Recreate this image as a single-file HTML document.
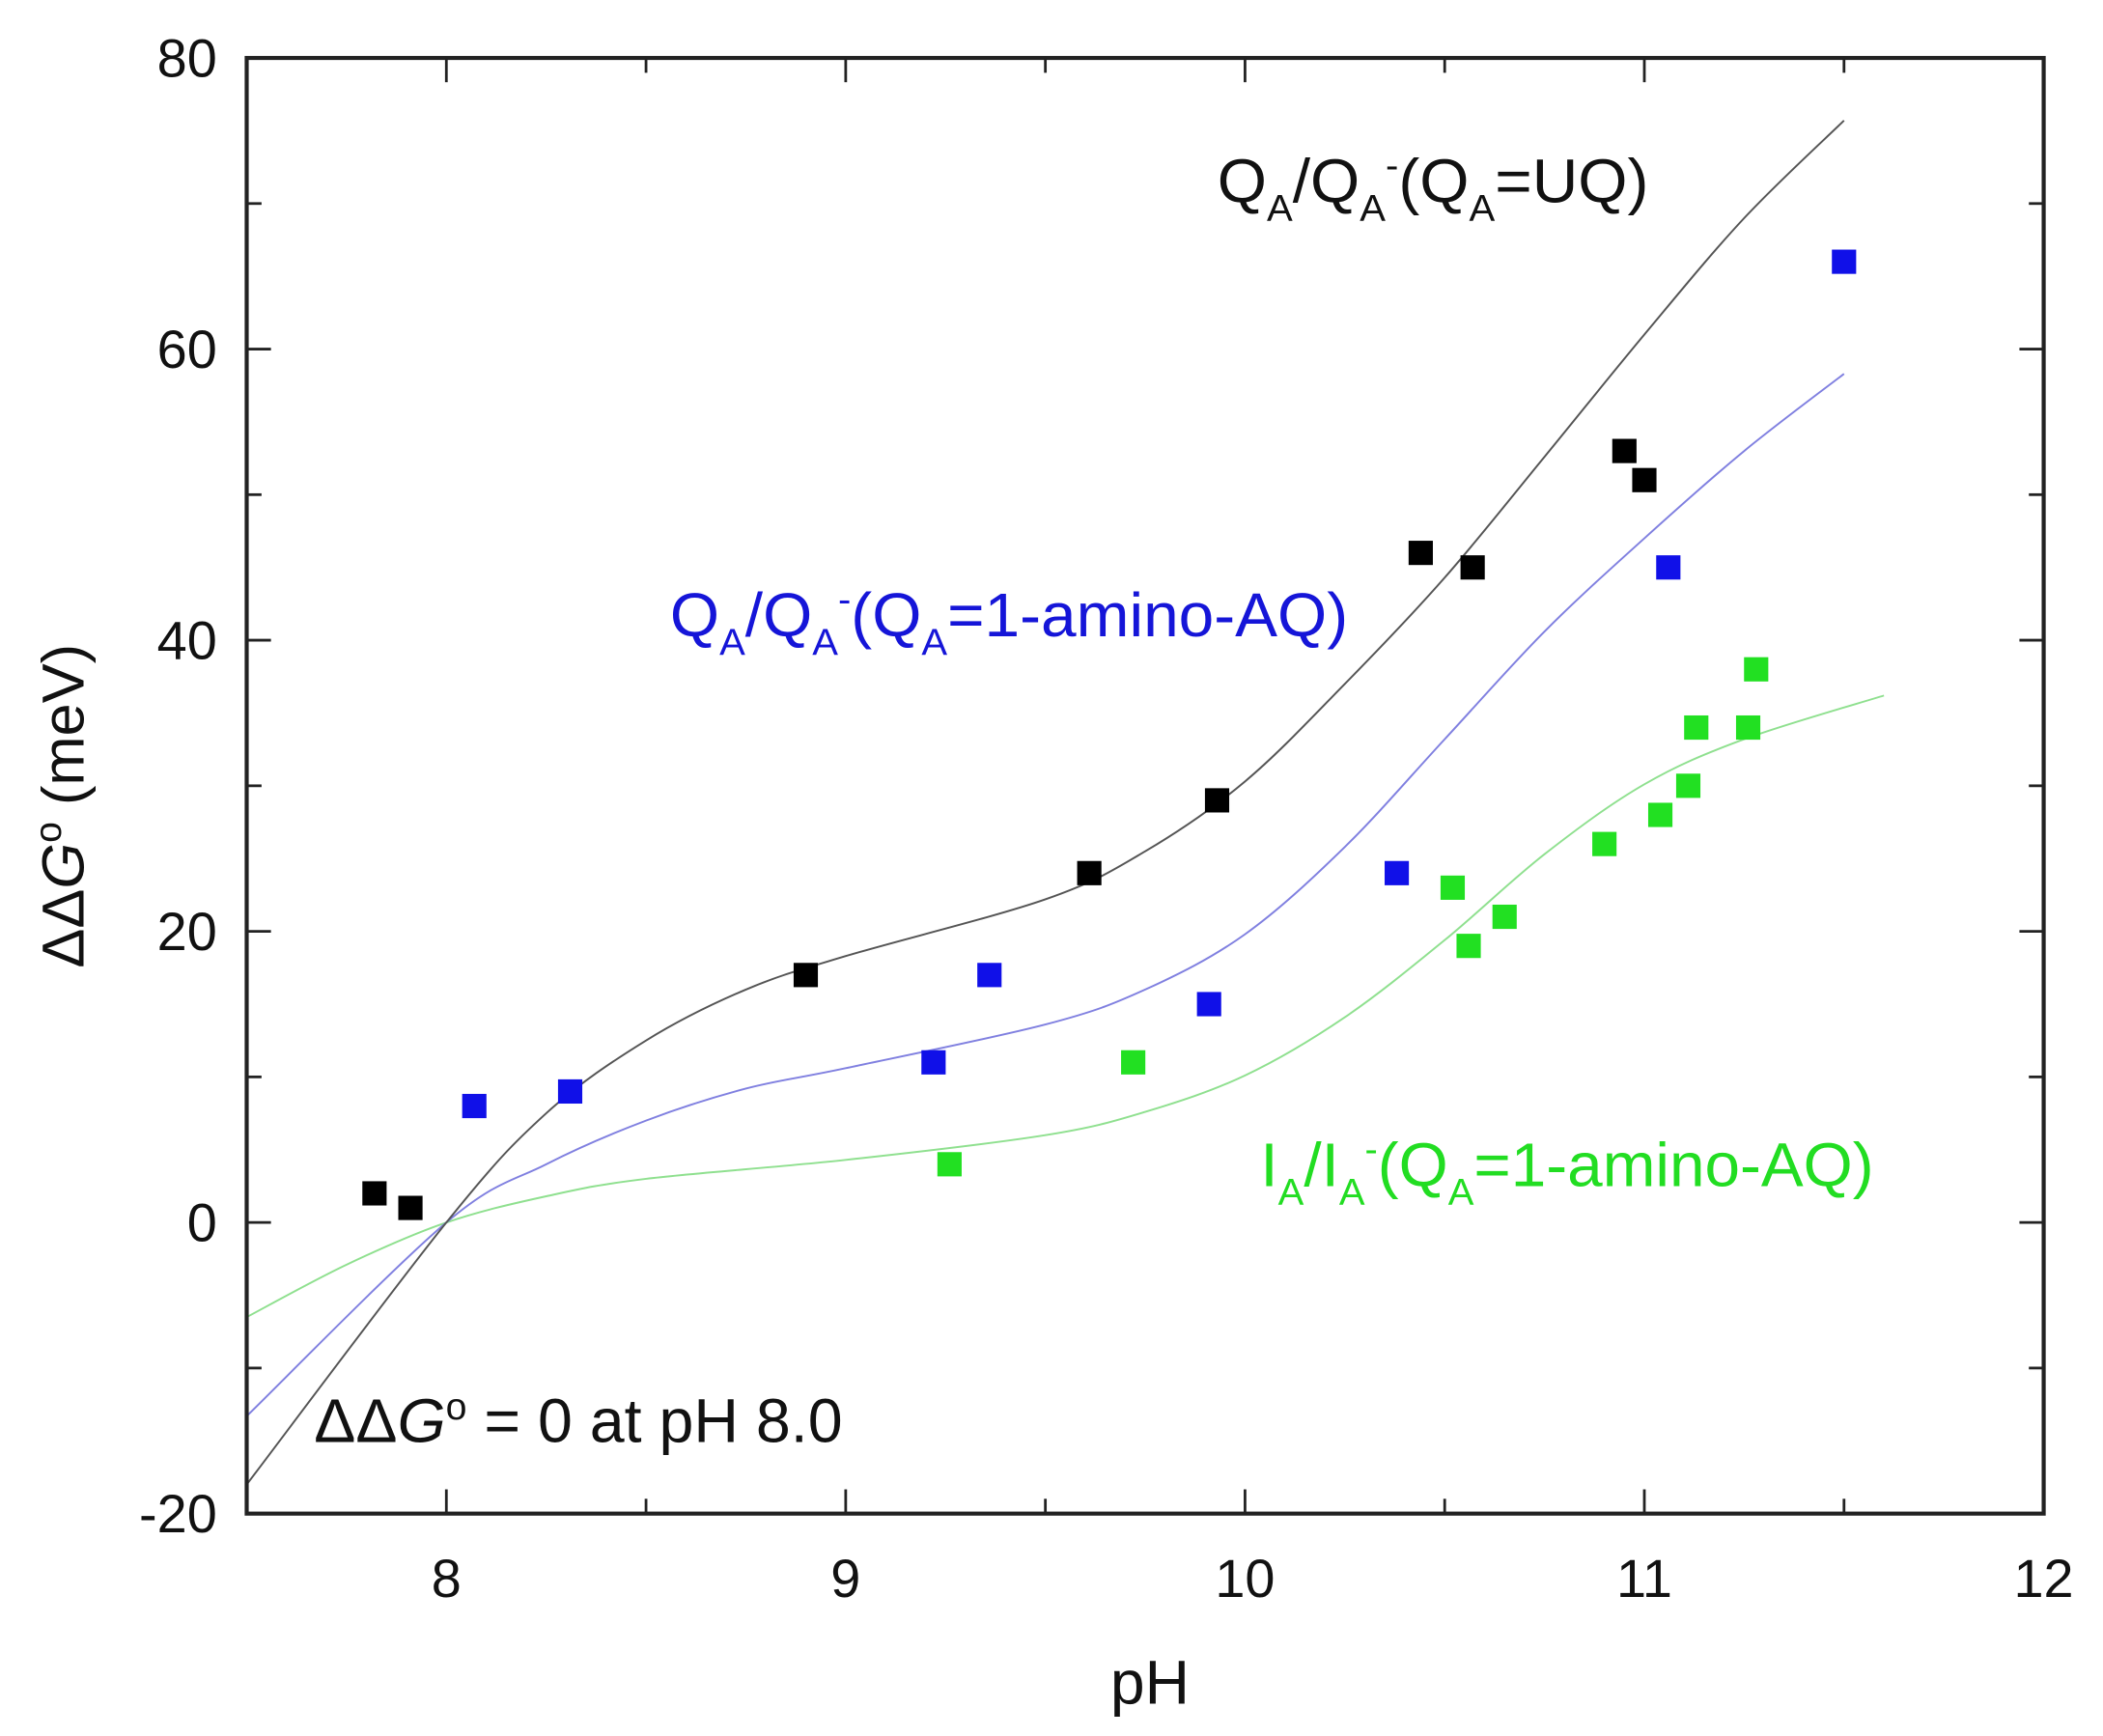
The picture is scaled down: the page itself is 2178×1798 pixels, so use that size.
<!DOCTYPE html>
<html><head><meta charset="utf-8"><style>
html,body{margin:0;padding:0;background:#fff;}
svg{display:block;font-family:"Liberation Sans",Arial,sans-serif;}
</style></head><body>
<svg id="chart" width="2178" height="1798" viewBox="0 0 1560 1288" preserveAspectRatio="none" xmlns="http://www.w3.org/2000/svg">
<g id="marks"></g>
<g id="axes"></g>
<text transform="translate(62,598) rotate(-90)" text-anchor="middle" font-size="44" fill="#111">ΔΔ<tspan font-style="italic">G</tspan><tspan dy="-17" font-size="28">o</tspan><tspan dy="17"> (meV)</tspan></text>
<text x="853" y="1264" text-anchor="middle" font-size="46" fill="#111">pH</text>
<text x="903" y="150" font-size="46" fill="#111" textLength="320" lengthAdjust="spacingAndGlyphs">Q<tspan dy="14" font-size="28">A</tspan><tspan dy="-14">/Q</tspan><tspan dy="14" font-size="28">A</tspan><tspan dy="-32" font-size="28">-</tspan><tspan dy="18">(Q</tspan><tspan dy="14" font-size="28">A</tspan><tspan dy="-14">=UQ)</tspan></text>
<text x="497" y="472" font-size="46" fill="#1515d8" textLength="503" lengthAdjust="spacingAndGlyphs">Q<tspan dy="14" font-size="28">A</tspan><tspan dy="-14">/Q</tspan><tspan dy="14" font-size="28">A</tspan><tspan dy="-32" font-size="28">-</tspan><tspan dy="18">(Q</tspan><tspan dy="14" font-size="28">A</tspan><tspan dy="-14">=1-amino-AQ)</tspan></text>
<text x="935" y="880" font-size="46" fill="#22dd22" textLength="455" lengthAdjust="spacingAndGlyphs">I<tspan dy="14" font-size="28">A</tspan><tspan dy="-14">/I</tspan><tspan dy="14" font-size="28">A</tspan><tspan dy="-32" font-size="28">-</tspan><tspan dy="18">(Q</tspan><tspan dy="14" font-size="28">A</tspan><tspan dy="-14">=1-amino-AQ)</tspan></text>
<text x="233" y="1070" font-size="46" fill="#111" textLength="392" lengthAdjust="spacingAndGlyphs">ΔΔ<tspan font-style="italic">G</tspan><tspan dy="-17" font-size="28">o</tspan><tspan dy="17"> = 0 at pH 8.0</tspan></text>
</svg>
<script>
const xTicks=[8,9,10,11,12];
const yTicks=[-20,0,20,40,60,80];
const blackX=[7.82,7.91,8.90,9.61,9.93,10.44,10.57,10.95,11.00];
const blackY=[2,1,17,24,29,46,45,53,51];
const blueX=[8.07,8.31,9.22,9.36,9.91,10.38,11.06,11.50];
const blueY=[8,9,11,17,15,24,45,66];
const greenX=[9.26,9.72,10.52,10.56,10.65,10.90,11.04,11.11,11.13,11.26,11.28];
const greenY=[4,11,23,19,21,26,28,30,34,34,38];
const fitBlackX=[7.5,8,8.25,8.5,8.75,9.0,9.5,9.75,10,10.25,10.5,10.75,11,11.25,11.5];
const fitBlackY=[-18,0,7.5,12.5,16,18.3,22.2,25.5,30.3,37,44.3,52.6,61,69,75.7];
const fitBlueX=[7.5,8,8.25,8.5,8.75,9,9.5,9.75,10,10.25,10.5,10.75,11,11.25,11.5];
const fitBlueY=[-13.3,0,4,7,9.2,10.6,13.6,16,19.8,25.8,33.2,40.6,47,53,58.3];
const fitGreenX=[7.5,7.75,8,8.25,8.5,9,9.5,9.75,10,10.25,10.5,10.75,11,11.25,11.6];
const fitGreenY=[-6.5,-2.9,0,1.8,3,4.3,6,7.6,10.1,14.1,19.4,25.3,30.1,33.2,36.2];

const L=183,R=1516,T=43,B=1123,X0=7.5,X1=12,Y0=-20,Y1=80;
const sx=v=>L+(v-X0)/(X1-X0)*(R-L);
const sy=v=>B-(v-Y0)/(Y1-Y0)*(B-T);
const NS="http://www.w3.org/2000/svg";
const marks=document.getElementById('marks'),axes=document.getElementById('axes');
function mk(tag,attrs,parent){const e=document.createElementNS(NS,tag);for(const k in attrs)e.setAttribute(k,attrs[k]);parent.appendChild(e);return e;}
function curve(xs,ys,color,name){
  const p=xs.map((x,i)=>[sx(x),sy(ys[i])]);
  let d='M'+p[0][0]+','+p[0][1];
  for(let i=0;i<p.length-1;i++){
    const p0=p[Math.max(i-1,0)],p1=p[i],p2=p[i+1],p3=p[Math.min(i+2,p.length-1)];
    d+=' C'+(p1[0]+(p2[0]-p0[0])/6)+','+(p1[1]+(p2[1]-p0[1])/6)+' '+(p2[0]-(p3[0]-p1[0])/6)+','+(p2[1]-(p3[1]-p1[1])/6)+' '+p2[0]+','+p2[1];
  }
  const e=mk('path',{d:d,fill:'none',stroke:color,'stroke-width':1.4},marks);
  
  
}
function pts(xs,ys,color,name){
  xs.forEach((x,i)=>{
    const e=mk('rect',{x:sx(x)-9,y:sy(ys[i])-9,width:18,height:18,fill:color},marks);
    
    
  });
}
curve(fitGreenX,fitGreenY,'#8fe08f','fit-curve-ia');
curve(fitBlueX,fitBlueY,'#8080e0','fit-curve-amino-aq');
curve(fitBlackX,fitBlackY,'#555','fit-curve-uq');
pts(greenX,greenY,'#22e022','point-ia');
pts(blueX,blueY,'#1010e8','point-amino-aq');
pts(blackX,blackY,'#000','point-uq');
const frame=mk('rect',{x:L,y:T,width:R-L,height:B-T,fill:'none',stroke:'#222','stroke-width':3},axes);


for(let v=8;v<=12;v+=0.5){
  const x=sx(v),len=(v%1===0)?18:11;
  mk('line',{x1:x,y1:B,x2:x,y2:B-len,stroke:'#222','stroke-width':2},axes);
  mk('line',{x1:x,y1:T,x2:x,y2:T+len,stroke:'#222','stroke-width':2},axes);
}
for(let v=-20;v<=80;v+=10){
  const y=sy(v),len=(v%20===0)?18:11;
  mk('line',{x1:L,y1:y,x2:L+len,y2:y,stroke:'#222','stroke-width':2},axes);
  mk('line',{x1:R,y1:y,x2:R-len,y2:y,stroke:'#222','stroke-width':2},axes);
}
xTicks.forEach(v=>{
  const t=mk('text',{x:sx(v),y:B+62,'text-anchor':'middle','font-size':40,fill:'#111'},axes);
  t.textContent=v;
  
  
});
yTicks.forEach(v=>{
  const t=mk('text',{x:L-22,y:sy(v)+14,'text-anchor':'end','font-size':40,fill:'#111'},axes);
  t.textContent=v;
  
  
});
</script>
</body></html>
